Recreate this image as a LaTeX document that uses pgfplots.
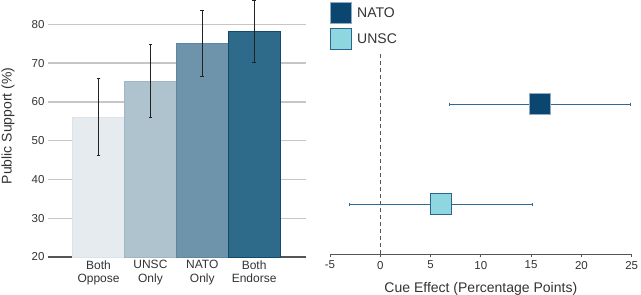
\documentclass[border=0pt]{standalone}
\usepackage{pgfplots}
\pgfplotsset{compat=1.18}
\usepackage{fontspec}
\setmainfont{Liberation Sans}
\definecolor{barA}{HTML}{E6EBEF}
\definecolor{barAe}{HTML}{DCE3E8}
\definecolor{barB}{HTML}{AFC3CE}
\definecolor{barBe}{HTML}{9FB7C5}
\definecolor{barC}{HTML}{6E94AB}
\definecolor{barCe}{HTML}{5E86A0}
\definecolor{barD}{HTML}{2E6B8B}
\definecolor{barDe}{HTML}{124A6C}
\definecolor{errgray}{HTML}{222222}
\definecolor{gridgray}{HTML}{C6C6C6}
\definecolor{axisgray}{HTML}{555555}
\definecolor{dashgray}{HTML}{555555}
\definecolor{natofill}{HTML}{0A4670}
\definecolor{natoedge}{HTML}{8FAAC2}
\definecolor{unscfill}{HTML}{8ED6E0}
\definecolor{unscedge}{HTML}{2B6590}
\definecolor{ciblue}{HTML}{2E6A96}
\definecolor{txt}{HTML}{333333}
\pgfplotsset{
  barerr/.style={error bars/.cd, y dir=both, y explicit, error mark=none,
    error bar style={line width=1.1pt, draw=errgray}},
  cierr/.style={error bars/.cd, x dir=both, x explicit, error mark=none,
    error bar style={draw=ciblue, line width=1.5pt}},
}
\begin{document}
\begin{tikzpicture}[x=1pt,y=1pt]
\begin{axis}[
  at={(48pt,38pt)}, anchor=south west,
  scale only axis, width=258pt, height=257pt,
  xmin=-0.975, xmax=4.0, ymin=20, ymax=86.27,
  axis x line*=bottom, axis y line*=left,
  y axis line style={draw=none},
  x axis line style={draw=axisgray, line width=1.2pt, -},
  xtick={0,1,2,3},
  xticklabels={{Both\\Oppose},{UNSC\\Only},{NATO\\Only},{Both\\Endorse}},
  xticklabel style={align=center, font=\fontsize{12}{13.3}\selectfont, text=txt},
  ytick={20,30,...,80},
  yticklabel style={font=\fontsize{11.5}{13}\selectfont, text=txt},
  /pgf/number format/assume math mode=true,
  major tick length=0pt,
  ymajorgrids, grid style={draw=gridgray, line width=1.3pt},
  ylabel={Public Support (\%)},
  ylabel style={font=\fontsize{14}{16}\selectfont, text=txt, at={(axis description cs:-0.155,0.51)}, anchor=center},
]
\addplot[ybar, bar width=51.8pt, bar shift=0pt, fill=barA, draw=barAe, line width=0.8pt, barerr]
  coordinates {(0,56.1) +- (0,10.0)};
\addplot[ybar, bar width=51.8pt, bar shift=0pt, fill=barB, draw=barBe, line width=0.8pt, barerr]
  coordinates {(1,65.4) +- (0,9.5)};
\addplot[ybar, bar width=51.8pt, bar shift=0pt, fill=barC, draw=barCe, line width=0.8pt, barerr]
  coordinates {(2,75.0) +- (0,8.5)};
\addplot[ybar, bar width=51.8pt, bar shift=0pt, fill=barD, draw=barDe, line width=0.8pt, barerr]
  coordinates {(3,78.1) +- (0,8.0)};
% error bar caps (interval ends)
\addplot[only marks, mark=-, mark size=1.8pt, mark options={draw=errgray, line width=1.1pt}]
  coordinates {(0,46.1) (0,66.1) (1,55.9) (1,74.9) (2,66.5) (2,83.5) (3,70.1) (3,86.1)};
\end{axis}

\begin{axis}[
  at={(330pt,40.5pt)}, anchor=south west,
  scale only axis, width=301.7pt, height=254.5pt,
  xmin=-5, xmax=25, ymin=0, ymax=254.5,
  clip=false,
  axis x line*=bottom, axis y line*=left,
  y axis line style={draw=none}, ytick=\empty,
  x axis line style={draw=axisgray, line width=1.2pt, -},
  xtick={-5,0,...,25},
  tick align=outside, major tick length=3pt,
  xtick style={draw=axisgray, line width=1pt},
  /pgf/number format/assume math mode=true,
  xticklabel style={font=\fontsize{11.5}{13}\selectfont, text=txt},
  xlabel={Cue Effect (Percentage Points)},
  xlabel style={font=\fontsize{14}{16}\selectfont, text=txt, at={(axis description cs:0.5,-0.1356)}, anchor=center},
  legend style={at={(axis description cs:0,1)}, yshift=-2pt, anchor=north west, draw=none, fill=none,
    inner sep=0pt, outer sep=0pt, row sep=4pt, column sep=3pt,
    font=\fontsize{14}{16}\selectfont, text=txt},
  legend cell align=left,
]
\addlegendimage{legend image code/.code={\draw[draw=natoedge, fill=natofill, line width=0.8pt] (0pt,-10.5pt) rectangle (21pt,10.5pt);}}
\addlegendentry{NATO}
\addlegendimage{legend image code/.code={\draw[draw=unscedge, fill=unscfill, line width=1.2pt] (0pt,-10.5pt) rectangle (21pt,10.5pt);}}
\addlegendentry{UNSC}
\addplot[draw=dashgray, line width=1.2pt, dash pattern=on 4pt off 3pt, forget plot]
  coordinates {(0,0) (0,201.5)};
% CI end caps
\addplot[only marks, mark=|, mark size=1.6pt, forget plot, mark options={draw=ciblue, line width=1.3pt}]
  coordinates {(6.9,150.2) (24.9,150.2) (-3.05,50.2) (15.15,50.2)};
\addplot[only marks, mark=square*, mark size=10.5pt, forget plot,
  mark options={fill=natofill, draw=natoedge, line width=0.8pt}, cierr]
  coordinates {(15.9,150.2) +- (9.0,0)};
\addplot[only marks, mark=square*, mark size=10.5pt, forget plot,
  mark options={fill=unscfill, draw=unscedge, line width=1.2pt}, cierr]
  coordinates {(6.05,50.2) +- (9.1,0)};
\end{axis}
\pgfresetboundingbox
\useasboundingbox (0pt,0pt) rectangle (641pt,295pt);
\end{tikzpicture}
\end{document}
